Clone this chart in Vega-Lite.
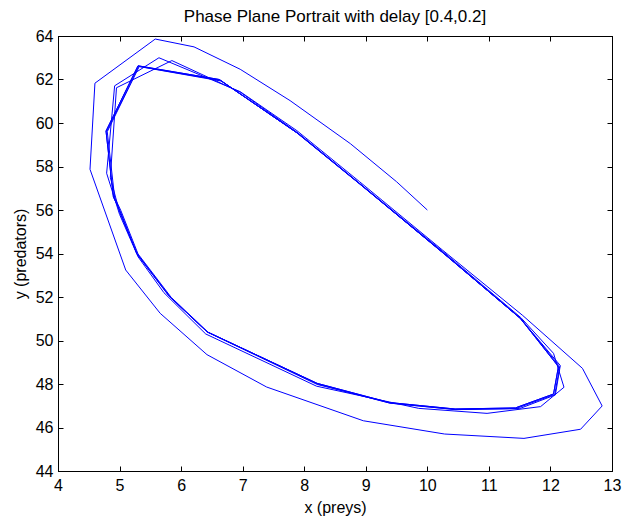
{
  "$schema": "https://vega.github.io/schema/vega-lite/v6.json",
  "width": 554,
  "height": 435,
  "autosize": {"type": "none"},
  "padding": {"left": 58, "top": 36, "right": 11, "bottom": 51},
  "background": "white",
  "title": {"text": "Phase Plane Portrait with delay [0.4,0.2]", "font": "Liberation Sans", "fontSize": 17, "fontWeight": "normal", "color": "black", "anchor": "middle", "frame": "group", "offset": 2},
  "config": {
    "view": {"stroke": "black", "strokeWidth": 1},
    "axis": {"labelFont": "Liberation Sans", "labelFontSize": 16, "labelColor": "black", "titleFont": "Liberation Sans", "titleFontSize": 16, "titleFontWeight": "normal", "titleColor": "black", "grid": false, "domainColor": "black", "tickColor": "black"}
  },
  "data": {"values": [
    {"i": 1, "x": 10.0, "y": 56.0},
    {"i": 2, "x": 9.5, "y": 57.3},
    {"i": 3, "x": 8.75, "y": 59.05},
    {"i": 4, "x": 7.77, "y": 61.03},
    {"i": 5, "x": 6.96, "y": 62.47},
    {"i": 6, "x": 6.21, "y": 63.5},
    {"i": 7, "x": 5.58, "y": 63.86},
    {"i": 8, "x": 4.6, "y": 61.83},
    {"i": 9, "x": 4.52, "y": 57.87},
    {"i": 10, "x": 5.1, "y": 53.24},
    {"i": 11, "x": 5.66, "y": 51.25},
    {"i": 12, "x": 6.42, "y": 49.35},
    {"i": 13, "x": 7.39, "y": 47.86},
    {"i": 14, "x": 8.96, "y": 46.31},
    {"i": 15, "x": 10.28, "y": 45.7},
    {"i": 16, "x": 11.57, "y": 45.5},
    {"i": 17, "x": 12.49, "y": 45.92},
    {"i": 18, "x": 12.84, "y": 46.99},
    {"i": 19, "x": 12.52, "y": 48.72},
    {"i": 20, "x": 11.55, "y": 51.15},
    {"i": 21, "x": 10.25, "y": 54.15},
    {"i": 22, "x": 8.9, "y": 57.3},
    {"i": 23, "x": 7.88, "y": 59.65},
    {"i": 24, "x": 6.96, "y": 61.44},
    {"i": 25, "x": 5.64, "y": 63.0},
    {"i": 26, "x": 4.92, "y": 61.71},
    {"i": 27, "x": 4.79, "y": 57.69},
    {"i": 28, "x": 5.0, "y": 55.8},
    {"i": 29, "x": 5.3, "y": 53.85},
    {"i": 30, "x": 5.72, "y": 52.2},
    {"i": 31, "x": 6.4, "y": 50.3},
    {"i": 32, "x": 8.2, "y": 47.9},
    {"i": 33, "x": 9.86, "y": 46.88},
    {"i": 34, "x": 10.97, "y": 46.65},
    {"i": 35, "x": 11.84, "y": 46.96},
    {"i": 36, "x": 12.22, "y": 47.85},
    {"i": 37, "x": 12.05, "y": 49.41},
    {"i": 38, "x": 11.52, "y": 51.05},
    {"i": 39, "x": 10.27, "y": 54.05},
    {"i": 40, "x": 8.9, "y": 57.22},
    {"i": 41, "x": 7.88, "y": 59.58},
    {"i": 42, "x": 6.96, "y": 61.42},
    {"i": 43, "x": 5.85, "y": 62.87},
    {"i": 44, "x": 4.95, "y": 61.62},
    {"i": 45, "x": 4.85, "y": 57.5},
    {"i": 46, "x": 5.0, "y": 55.9},
    {"i": 47, "x": 5.29, "y": 53.95},
    {"i": 48, "x": 5.8, "y": 52.05},
    {"i": 49, "x": 6.43, "y": 50.38},
    {"i": 50, "x": 8.21, "y": 47.98},
    {"i": 51, "x": 9.4, "y": 47.12},
    {"i": 52, "x": 10.45, "y": 46.83},
    {"i": 53, "x": 11.5, "y": 46.87},
    {"i": 54, "x": 12.08, "y": 47.5},
    {"i": 55, "x": 12.16, "y": 48.85},
    {"i": 56, "x": 11.51, "y": 51.02},
    {"i": 57, "x": 10.27, "y": 54.0},
    {"i": 58, "x": 8.9, "y": 57.2},
    {"i": 59, "x": 7.88, "y": 59.55},
    {"i": 60, "x": 6.62, "y": 62.0},
    {"i": 61, "x": 5.3, "y": 62.63},
    {"i": 62, "x": 4.78, "y": 59.63},
    {"i": 63, "x": 4.9, "y": 56.6},
    {"i": 64, "x": 5.0, "y": 56.0},
    {"i": 65, "x": 5.28, "y": 54.0},
    {"i": 66, "x": 5.82, "y": 52.0},
    {"i": 67, "x": 6.42, "y": 50.4},
    {"i": 68, "x": 8.21, "y": 48.03},
    {"i": 69, "x": 9.38, "y": 47.15},
    {"i": 70, "x": 10.45, "y": 46.85},
    {"i": 71, "x": 11.43, "y": 46.9},
    {"i": 72, "x": 12.05, "y": 47.54},
    {"i": 73, "x": 12.13, "y": 48.8},
    {"i": 74, "x": 11.51, "y": 51.02},
    {"i": 75, "x": 10.27, "y": 54.0},
    {"i": 76, "x": 8.9, "y": 57.2},
    {"i": 77, "x": 7.88, "y": 59.55},
    {"i": 78, "x": 6.62, "y": 62.0},
    {"i": 79, "x": 5.3, "y": 62.63},
    {"i": 80, "x": 4.78, "y": 59.63},
    {"i": 81, "x": 4.9, "y": 56.6},
    {"i": 82, "x": 5.0, "y": 56.0},
    {"i": 83, "x": 5.28, "y": 54.0},
    {"i": 84, "x": 5.82, "y": 52.0},
    {"i": 85, "x": 6.42, "y": 50.4},
    {"i": 86, "x": 8.21, "y": 48.03},
    {"i": 87, "x": 9.38, "y": 47.15},
    {"i": 88, "x": 10.45, "y": 46.85},
    {"i": 89, "x": 11.43, "y": 46.9},
    {"i": 90, "x": 12.05, "y": 47.54},
    {"i": 91, "x": 12.13, "y": 48.8},
    {"i": 92, "x": 11.51, "y": 51.02},
    {"i": 93, "x": 10.28, "y": 53.97},
    {"i": 94, "x": 8.92, "y": 57.17},
    {"i": 95, "x": 7.9, "y": 59.52},
    {"i": 96, "x": 6.64, "y": 61.96},
    {"i": 97, "x": 5.32, "y": 62.6},
    {"i": 98, "x": 4.8, "y": 59.6},
    {"i": 99, "x": 4.92, "y": 56.58},
    {"i": 100, "x": 5.02, "y": 55.98},
    {"i": 101, "x": 5.3, "y": 53.98},
    {"i": 102, "x": 5.84, "y": 51.98},
    {"i": 103, "x": 6.44, "y": 50.38},
    {"i": 104, "x": 8.22, "y": 48.0},
    {"i": 105, "x": 9.39, "y": 47.12},
    {"i": 106, "x": 10.46, "y": 46.82},
    {"i": 107, "x": 11.44, "y": 46.87},
    {"i": 108, "x": 12.07, "y": 47.52},
    {"i": 109, "x": 12.15, "y": 48.8},
    {"i": 110, "x": 11.52, "y": 51.0},
    {"i": 111, "x": 10.29, "y": 53.94},
    {"i": 112, "x": 8.93, "y": 57.14},
    {"i": 113, "x": 7.91, "y": 59.5},
    {"i": 114, "x": 6.65, "y": 61.93},
    {"i": 115, "x": 5.31, "y": 62.6},
    {"i": 116, "x": 4.79, "y": 59.6}
  ]},
  "layer": [
    {
      "mark": {"type": "line", "color": "#0000ff", "strokeWidth": 1, "clip": true},
      "encoding": {
        "order": {"field": "i", "type": "quantitative"},
        "x": {"field": "x", "type": "quantitative", "scale": {"domain": [4, 13], "nice": false, "zero": false},
          "axis": {"orient": "bottom", "values": [4,5,6,7,8,9,10,11,12,13], "tickSize": -5, "labelPadding": 11, "title": "x (preys)", "titlePadding": 6, "labelFlush": false}},
        "y": {"field": "y", "type": "quantitative", "scale": {"domain": [44, 64], "nice": false, "zero": false},
          "axis": {"orient": "left", "values": [44,46,48,50,52,54,56,58,60,62,64], "tickSize": -5, "labelPadding": 10, "title": "y (predators)", "titlePadding": 7, "labelFlush": false}}
      }
    },
    {
      "mark": {"type": "point", "opacity": 0},
      "encoding": {
        "x": {"field": "x", "type": "quantitative", "scale": {"domain": [4, 13], "nice": false, "zero": false},
          "axis": {"orient": "top", "values": [4,5,6,7,8,9,10,11,12,13], "tickSize": -5, "labels": false, "title": null}},
        "y": {"field": "y", "type": "quantitative", "scale": {"domain": [44, 64], "nice": false, "zero": false},
          "axis": {"orient": "right", "values": [44,46,48,50,52,54,56,58,60,62,64], "tickSize": -5, "labels": false, "title": null}}
      }
    }
  ],
  "resolve": {"axis": {"x": "independent", "y": "independent"}}
}
